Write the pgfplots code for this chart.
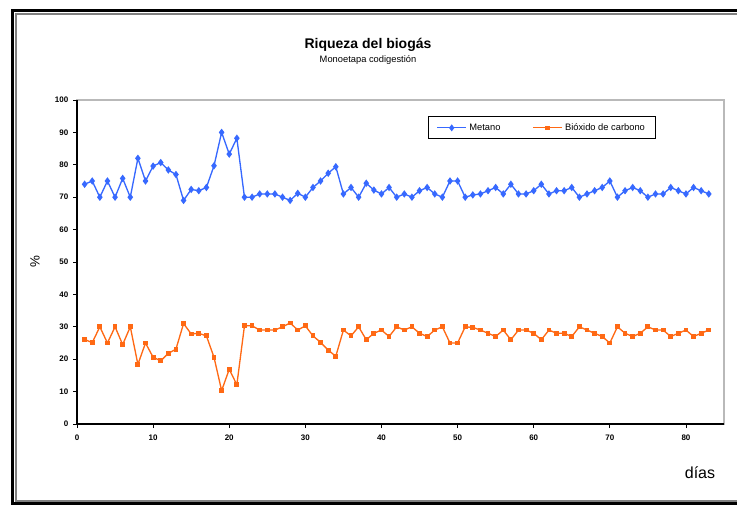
\documentclass[border=0pt]{standalone}
\usepackage{pgfplots}
\pgfplotsset{compat=1.18}
\usepackage{fontspec}
\setmainfont{Liberation Sans}
\definecolor{metano}{RGB}{55,105,255}
\definecolor{co2}{RGB}{255,105,20}

\pgfplotstableread{
dia val
1 74
2 75
3 70
4 75
5 70
6 75.8
7 70
8 82
9 75
10 79.6
11 80.7
12 78.4
13 77
14 69
15 72.4
16 72
17 73
18 79.7
19 90
20 83.3
21 88.2
22 70
23 70
24 71
25 71
26 71
27 70
28 69
29 71.2
30 70
31 73
32 75
33 77.4
34 79.4
35 71
36 73
37 70
38 74.3
39 72.2
40 71
41 73
42 70
43 71
44 70
45 72
46 73
47 71
48 70
49 75
50 75
51 70
52 70.7
53 71
54 72
55 73
56 71
57 74
58 71
59 71
60 72
61 74
62 71
63 72
64 72
65 73
66 70
67 71
68 72
69 73
70 75
71 70
72 72
73 73
74 72
75 70
76 71
77 71
78 73
79 72
80 71
81 73
82 72
83 71
}\metano

\pgfplotstableread{
dia val
1 26.1
2 25.1
3 30
4 25
5 30
6 24.5
7 30
8 18.4
9 25
10 20.6
11 19.5
12 21.8
13 23.1
14 31
15 27.8
16 28
17 27.2
18 20.6
19 10.3
20 16.9
21 12.1
22 30.3
23 30.3
24 29
25 29
26 29
27 30
28 31.2
29 29
30 30.3
31 27.2
32 25.2
33 22.8
34 20.9
35 29
36 27.2
37 30
38 26
39 28
40 29
41 27
42 30
43 29
44 30
45 28
46 27
47 29
48 30
49 25
50 25
51 30
52 29.8
53 29
54 28
55 27
56 29
57 26
58 29
59 29
60 28
61 26
62 29
63 28
64 28
65 27
66 30
67 29
68 28
69 27
70 25
71 30
72 28
73 27
74 28
75 30
76 29
77 29
78 27
79 28
80 29
81 27
82 28
83 29
}\carbono

\begin{document}
\begin{tikzpicture}
\useasboundingbox (0,0) rectangle (552.75pt,380.25pt);
% marco exterior
\draw[black, line width=2.25pt] (570pt,372.4pt) -- (9.4pt,372.4pt) -- (9.4pt,2.6pt) -- (570pt,2.6pt);
\draw[gray, line width=1.4pt] (570pt,369.7pt) -- (12pt,369.7pt) -- (12pt,4.6pt) -- (570pt,4.6pt);

\node[font=\bfseries\fontsize{10.5}{12}\selectfont] at (276pt,346.5pt) {Riqueza del biogás};
\node[font=\fontsize{7}{8}\selectfont] at (276pt,335pt) {Monoetapa codigestión};
\node[font=\fontsize{10}{11}\selectfont, rotate=90] at (26.25pt,183.75pt) {\%};
\node[font=\fontsize{12}{14}\selectfont] at (525pt,26pt) {días};

\begin{axis}[
    at={(57.75pt,62.25pt)}, anchor=south west,
    scale only axis,
    width=485.25pt, height=243pt,
    xmin=0, xmax=85, ymin=0, ymax=100,
    xtick={0,10,...,80},
    ytick={0,10,...,100},
    tick pos=left,
    tick align=outside,
    major tick length=3pt,
    tick style={black, line width=0.5pt},
    axis line style={gray!55, line width=0.8pt},
    tick label style={font=\bfseries\fontsize{6}{7}\selectfont},
    /pgf/number format/assume math mode=true,
    xticklabel style={yshift=-2pt},
    legend columns=2,
    legend style={at={(0.719,0.914)}, anchor=center,
        draw=black, line width=0.8pt,
        font=\fontsize{7}{8}\selectfont,
        inner xsep=6pt, inner ysep=3pt,
        /tikz/every even column/.append style={column sep=22pt}},
    legend image code/.code={
        \draw[mark repeat=2, mark phase=2, #1]
            plot coordinates {(0cm,0cm) (0.38cm,0cm) (0.76cm,0cm)};},
    legend image post style={line width=0.8pt},
    clip=false,
]
\draw[black, line width=0.9pt] (rel axis cs:0,1) -- (rel axis cs:0,0) -- (rel axis cs:1,0);
\addplot[color=metano, line width=1pt, mark=diamond*, mark size=2pt,
    mark options={solid, fill=metano}] table[x=dia, y=val] {\metano};
\addlegendentry{Metano}
\addplot[color=co2, line width=1pt, mark=square*, mark size=1.3pt,
    mark options={solid, fill=co2}] table[x=dia, y=val] {\carbono};
\addlegendentry{Bióxido de carbono}
\end{axis}
\end{tikzpicture}
\end{document}
